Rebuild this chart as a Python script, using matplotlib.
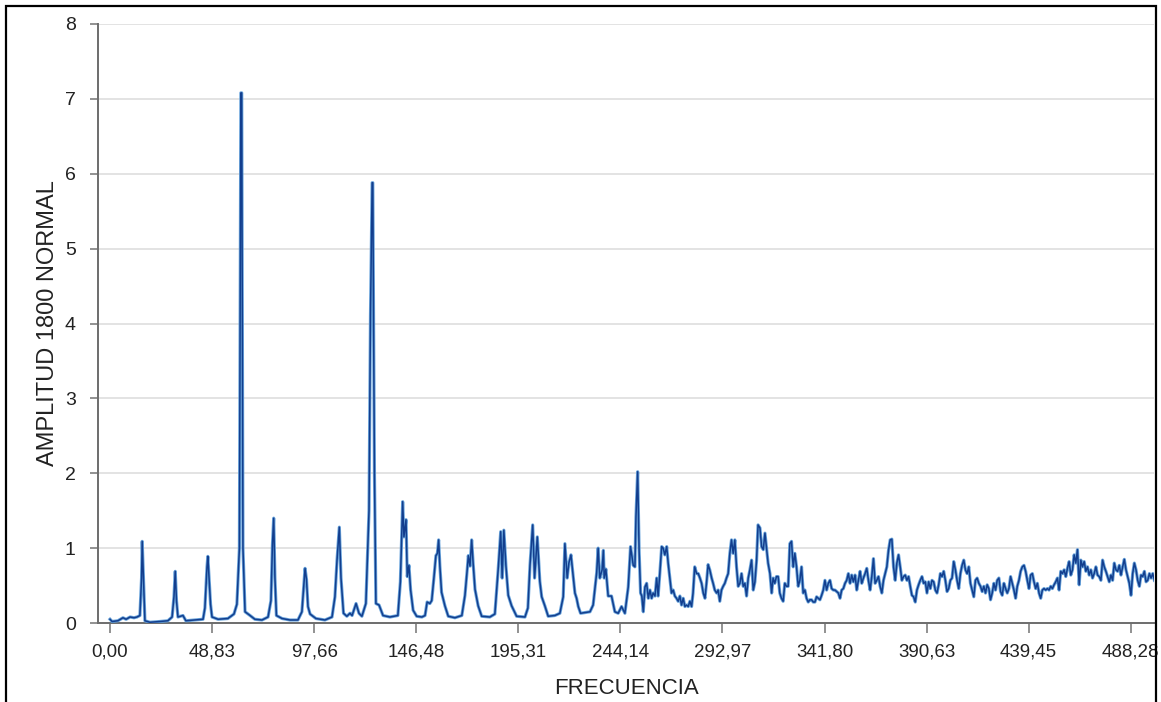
import matplotlib
matplotlib.use("Agg")
import matplotlib.pyplot as plt
from matplotlib.patches import Rectangle

# ---------------- data ----------------
freq_low = [0.0, 1.0, 3.8, 6.2, 7.7, 9.6, 11.5, 12.9, 14.3, 15.1, 15.4, 16.0, 16.7, 19.1, 23.9, 27.7,
            29.7, 30.6, 31.2, 31.8, 32.5, 34.9, 36.3, 40.7, 44.5, 45.4, 46.4, 46.8, 47.3, 48.1, 48.8,
            51.7, 56.4, 59.3, 60.7, 61.9, 62.6, 63.0, 63.6, 64.6, 67.0, 69.3, 72.7, 75.6, 77.0, 77.7,
            78.3, 78.9, 79.6, 82.3, 86.1, 89.9, 91.8, 92.8, 93.3, 94.0, 94.7, 95.7, 98.5, 102.8, 106.2,
            107.6, 108.6, 109.7, 110.5, 111.7, 113.3, 114.8, 115.8, 117.7, 119.1, 120.5, 122.4, 123.9,
            124.6, 125.4, 125.7, 126.5, 127.2, 128.7, 130.6, 133.9, 137.7, 138.9, 140.0, 140.6, 141.6,
            142.2, 143.0, 143.8, 145.0, 146.7, 149.2, 150.7, 151.7, 153.0, 153.9, 155.0, 155.9, 156.6,
            157.2, 157.8, 158.6, 160.2, 161.8, 165.0, 168.3, 169.8, 170.9, 171.4, 172.2, 173.0, 173.7,
            174.6, 176.1, 177.8, 181.7, 184.1, 185.7, 186.9, 187.6, 188.4, 189.4, 190.5, 192.1, 194.5,
            198.5, 199.9, 200.9, 202.2, 203.1, 204.4, 205.6, 206.5, 208.0, 209.6, 212.8, 215.2, 216.8,
            217.6, 218.7, 219.5, 220.5, 221.4, 222.4, 223.2, 224.0, 225.1, 227.2, 229.6, 231.1, 232.8,
            233.5, 234.3, 235.4, 236.0, 236.4, 237.2, 238.3, 239.9, 241.5, 243.1, 244.7, 246.3, 247.9,
            249.0, 250.3, 251.1, 251.6, 252.4, 253.1]
amp_low = [0.05, 0.02, 0.03, 0.07, 0.05, 0.08, 0.07, 0.08, 0.10, 0.60, 1.09, 0.60, 0.03, 0.01, 0.02, 0.03,
           0.08, 0.35, 0.69, 0.30, 0.08, 0.10, 0.03, 0.04, 0.05, 0.20, 0.75, 0.89, 0.65, 0.25, 0.08,
           0.05, 0.06, 0.12, 0.25, 1.00, 7.08, 7.08, 1.00, 0.15, 0.10, 0.05, 0.04, 0.08, 0.30, 1.04,
           1.40, 0.60, 0.10, 0.06, 0.04, 0.04, 0.15, 0.55, 0.73, 0.58, 0.22, 0.12, 0.06, 0.04, 0.08,
           0.35, 0.84, 1.28, 0.60, 0.13, 0.09, 0.13, 0.10, 0.26, 0.13, 0.09, 0.26, 1.50,
           4.10, 5.88, 5.88, 2.00, 0.26, 0.24, 0.10, 0.08, 0.10, 0.55, 1.62, 1.15, 1.38,
           0.62, 0.77, 0.44, 0.17, 0.09, 0.08, 0.10, 0.28, 0.26, 0.30, 0.62, 0.90, 0.93,
           1.11, 0.76, 0.41, 0.23, 0.09, 0.07, 0.10, 0.37, 0.72, 0.90, 0.76, 1.11, 0.80,
           0.45, 0.23, 0.09, 0.08, 0.12, 0.72, 1.22, 0.60, 1.24, 0.76, 0.37, 0.23, 0.09,
           0.08, 0.20, 0.77, 1.31, 0.60, 1.15, 0.56, 0.35, 0.23, 0.09, 0.10, 0.13, 0.35,
           1.06, 0.60, 0.80, 0.91, 0.67, 0.40, 0.33, 0.22, 0.13, 0.14, 0.15, 0.24, 0.67,
           1.00, 0.60, 0.71, 0.97, 0.60, 0.72, 0.36, 0.36, 0.15, 0.13, 0.22, 0.13, 0.48,
           1.02, 0.77, 0.75, 1.42, 2.02, 0.97]

freq_mid = [253.8, 254.4, 255.1, 255.9, 256.7, 257.5, 258.3, 259.1, 259.8, 260.7,
            261.5, 262.2, 263.0, 263.9, 264.6, 265.4, 266.3, 267.0, 267.8, 268.6,
            269.4, 270.2, 271.0, 271.8, 272.6, 273.4, 274.2, 275.0, 275.8, 276.6,
            277.4, 278.2, 278.9, 279.7, 280.6, 281.4, 282.2, 283.0, 283.8, 284.6,
            285.4, 286.1, 286.9, 287.8, 288.5, 289.3, 290.2, 290.9, 291.7, 292.5,
            293.3, 294.1, 294.9, 295.7, 296.5, 297.3, 298.1, 298.9, 299.7, 300.5,
            301.3, 302.1, 302.9, 303.7, 304.5, 305.3, 306.1, 306.9, 307.7, 308.5,
            309.3, 310.0, 310.9, 311.7, 312.5, 313.3, 314.1, 314.8, 315.7, 316.5,
            317.2, 318.0, 318.8, 319.6, 320.4, 321.2, 322.0, 322.8, 323.6, 324.4]
amp_mid = [0.40, 0.36, 0.15, 0.48, 0.53, 0.33, 0.44, 0.33, 0.40, 0.36,
           0.60, 0.36, 0.66, 1.02, 1.00, 0.91, 1.02, 0.80, 0.60, 0.40,
           0.44, 0.36, 0.33, 0.29, 0.36, 0.24, 0.33, 0.22, 0.24, 0.22,
           0.29, 0.22, 0.40, 0.75, 0.66, 0.66, 0.60, 0.53, 0.40, 0.33,
           0.55, 0.78, 0.71, 0.60, 0.53, 0.44, 0.40, 0.44, 0.29, 0.44,
           0.49, 0.53, 0.60, 0.66, 0.93, 1.11, 0.93, 1.11, 0.75, 0.49,
           0.53, 0.66, 0.49, 0.53, 0.36, 0.60, 0.71, 0.84, 0.44, 0.55,
           0.84, 1.31, 1.27, 1.02, 0.98, 1.20, 0.98, 0.80, 0.66, 0.40,
           0.60, 0.53, 0.62, 0.62, 0.40, 0.33, 0.29, 0.53, 0.49, 0.49]

freq_high = [325.2, 326.0, 326.8, 327.6, 328.4, 329.2, 330.0, 330.8, 331.6, 332.4,
             333.2, 334.0, 334.8, 335.6, 336.4, 337.2, 338.0, 338.8, 339.6, 340.4,
             341.2, 342.0, 342.8, 343.6, 344.4, 345.2, 346.0, 346.8, 347.6, 348.4,
             349.2, 350.0, 350.8, 351.6, 352.4, 353.2, 354.0, 354.8, 355.6, 356.4,
             357.2, 358.0, 358.8, 359.6, 360.4, 361.2, 362.0, 362.8, 363.6, 364.4,
             365.2, 366.0, 366.8, 367.6, 368.4, 369.2, 370.0, 370.8, 371.6, 372.4,
             373.2, 374.0, 374.8, 375.6, 376.4, 377.2, 378.0, 378.8, 379.6, 380.4,
             381.2, 382.0, 382.8, 383.6, 384.4, 385.2, 386.0, 386.8, 387.6, 388.4,
             389.2, 390.0, 390.8, 391.6, 392.4, 393.2, 394.0, 394.8, 395.6, 396.4,
             397.2, 398.0, 398.8, 399.6, 400.4, 401.2, 402.0, 402.8, 403.6, 404.4,
             405.2, 406.0, 406.8, 407.6, 408.4, 409.2, 410.0, 410.8, 411.6, 412.4,
             413.2, 414.0, 414.8, 415.6, 416.4, 417.2, 418.0, 418.8, 419.6, 420.4,
             421.2, 422.0, 422.8, 423.6, 424.4, 425.2]
amp_high = [1.06, 1.09, 0.75, 0.93, 0.75, 0.49, 0.57, 0.75, 0.40, 0.44,
            0.33, 0.28, 0.31, 0.31, 0.28, 0.28, 0.35, 0.33, 0.31, 0.37,
            0.44, 0.57, 0.44, 0.53, 0.57, 0.46, 0.44, 0.44, 0.42, 0.40,
            0.33, 0.44, 0.46, 0.53, 0.57, 0.66, 0.53, 0.64, 0.55, 0.64,
            0.44, 0.57, 0.69, 0.53, 0.60, 0.66, 0.73, 0.57, 0.44, 0.62,
            0.86, 0.53, 0.57, 0.62, 0.49, 0.40, 0.57, 0.66, 0.75, 0.97,
            1.11, 1.12, 0.75, 0.57, 0.80, 0.91, 0.75, 0.57, 0.62, 0.64,
            0.57, 0.62, 0.49, 0.37, 0.35, 0.28, 0.44, 0.51, 0.57, 0.62,
            0.53, 0.55, 0.40, 0.55, 0.46, 0.57, 0.55, 0.44, 0.40, 0.51,
            0.66, 0.62, 0.69, 0.57, 0.42, 0.46, 0.57, 0.60, 0.82, 0.71,
            0.57, 0.46, 0.66, 0.77, 0.84, 0.71, 0.66, 0.75, 0.53, 0.44,
            0.35, 0.57, 0.60, 0.53, 0.49, 0.42, 0.49, 0.40, 0.51, 0.46,
            0.31, 0.40, 0.53, 0.44, 0.57, 0.60]

freq_top = [426.0, 426.8, 427.6, 428.4, 429.2, 430.0, 430.8, 431.6, 432.4, 433.2,
            434.0, 434.8, 435.6, 436.4, 437.2, 438.0, 438.8, 439.6, 440.4, 441.2,
            442.0, 442.8, 443.6, 444.4, 445.2, 446.0, 446.8, 447.6, 448.4, 449.2,
            450.0, 450.8, 451.6, 452.4, 453.2, 454.0, 454.8, 455.6, 456.4, 457.2,
            458.0, 458.8, 459.6, 460.4, 461.2, 462.0, 462.8, 463.6, 464.4, 465.2,
            466.0, 466.8, 467.6, 468.4, 469.2, 470.0, 470.8, 471.6, 472.4, 473.2,
            474.0, 474.8, 475.6, 476.4, 477.2, 478.0, 478.8, 479.6, 480.4, 481.2,
            482.0, 482.8, 483.6, 484.4, 485.2, 486.0, 486.8, 487.6, 488.4, 489.2,
            490.0, 490.8, 491.6, 492.4, 493.2, 494.0, 494.8, 495.6, 496.4, 497.2,
            498.0, 498.8, 499.6]
amp_top = [0.42, 0.37, 0.53, 0.46, 0.40, 0.46, 0.62, 0.53, 0.44, 0.33,
           0.49, 0.57, 0.69, 0.75, 0.77, 0.69, 0.57, 0.46, 0.64, 0.66,
           0.55, 0.46, 0.53, 0.40, 0.33, 0.44, 0.46, 0.44, 0.46, 0.44,
           0.49, 0.46, 0.51, 0.55, 0.60, 0.44, 0.69, 0.66, 0.71, 0.62,
           0.73, 0.82, 0.64, 0.71, 0.91, 0.80, 0.98, 0.51, 0.84, 0.75,
           0.82, 0.69, 0.75, 0.64, 0.71, 0.60, 0.66, 0.75, 0.64, 0.62,
           0.57, 0.84, 0.75, 0.69, 0.62, 0.55, 0.64, 0.57, 0.80, 0.71,
           0.69, 0.77, 0.64, 0.75, 0.85, 0.71, 0.62, 0.53, 0.37, 0.66,
           0.80, 0.71, 0.57, 0.49, 0.64, 0.62, 0.69, 0.55, 0.57, 0.66,
           0.60, 0.66, 0.57]

x_ticks = [0.00, 48.83, 97.66, 146.48, 195.31, 244.14, 292.97, 341.80, 390.63, 439.45, 488.28]
x_tick_labels = ["0,00", "48,83", "97,66", "146,48", "195,31", "244,14",
                 "292,97", "341,80", "390,63", "439,45", "488,28"]
y_ticks = [0, 1, 2, 3, 4, 5, 6, 7, 8]

x_title = "FRECUENCIA"
y_title = "AMPLITUD 1800 NORMAL"

# ---------------- figure ----------------
W, H = 1161, 702
fig = plt.figure(figsize=(W / 100, H / 100), dpi=100)
ax = fig.add_axes([98 / W, 1 - 623 / H, (1154 - 98) / W, (623 - 24) / H])

freq = freq_low + freq_mid + freq_high + freq_top
amp = amp_low + amp_mid + amp_high + amp_top

ax.plot(freq, amp, color="#5b9bd8", lw=2.3, alpha=0.9, solid_joinstyle="round", zorder=3)
ax.plot(freq, amp, color="#123e8e", lw=1.1, solid_joinstyle="round", zorder=4)

ax.set_xlim(-5.74, 499.4)
ax.set_ylim(0, 8)

narrow = ["Liberation Sans Narrow", "Liberation Sans", "DejaVu Sans"]
regular = ["Liberation Sans", "DejaVu Sans"]

ax.set_xticks(x_ticks)
ax.set_xticklabels(x_tick_labels, fontfamily=narrow, fontsize=13.5, color="#222222")
ax.set_yticks(y_ticks)
ax.set_yticklabels([str(v) for v in y_ticks], fontfamily=narrow, fontsize=14, color="#222222")

ax.tick_params(axis="x", direction="out", length=7, width=1.2, color="#7f7f7f", pad=8)
ax.tick_params(axis="y", direction="out", length=6, width=1.2, color="#7f7f7f", pad=10)

ax.grid(axis="y", color="#e3e3e3", lw=1.4, zorder=0)
ax.set_axisbelow(True)

for s in ["top", "right"]:
    ax.spines[s].set_visible(False)
for s in ["left", "bottom"]:
    ax.spines[s].set_color("#6d6d6d")
    ax.spines[s].set_linewidth(1.4)

ax.set_xlabel(x_title, fontfamily=narrow, fontsize=16, color="#222222", labelpad=12)
ax.set_ylabel(y_title, fontfamily=regular, fontsize=17, color="#222222", labelpad=4)

# outer black frame of the screenshot
fig.patches.append(Rectangle((6 / W, -0.02), (1156 - 6) / W, 1.02 - 6 / H,
                             transform=fig.transFigure, fill=False,
                             edgecolor="black", lw=1.6, zorder=10))

fig.savefig("out.png", dpi=100)
